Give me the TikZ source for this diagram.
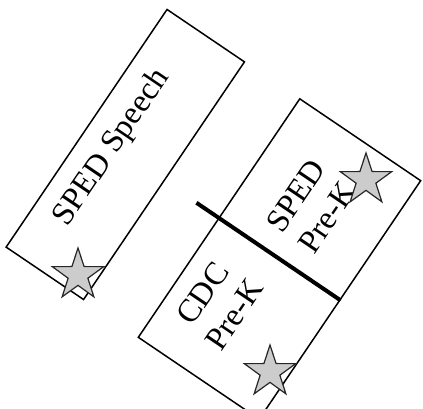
\documentclass[tikz,border=0pt]{standalone}
\usepackage{fontspec}
\setmainfont{Liberation Serif}
\usepackage{tikz}
\usetikzlibrary{shapes.geometric, calc}
\tikzstyle{room} = [rectangle, draw=black, line width=1.5pt, rotate=55.9, inner sep=0pt]
\tikzstyle{roomname} = [rotate=55.9, align=center, font=\fontsize{32.5}{38}\selectfont, inner sep=0pt]
\tikzstyle{spot} = [star, star points=5, star point ratio=2.6, minimum size=54pt, inner sep=0pt, draw=black!85, fill=black!20, line width=1.2pt]
\tikzstyle{divider} = [line width=4pt]

\begin{document}
\begin{tikzpicture}[x=1pt, y=1pt]
	\useasboundingbox (0,0) rectangle (423,409);
	\node (room1) [room, minimum width=287pt, minimum height=93.5pt] at (125.3,254.5) {};
	\node (room2) [room, minimum width=288pt, minimum height=146pt] at (279.5,150) {};
	\node (room1txt) [roomname] at (112,261) {SPED Speech};
	\node (room2atxt) [roomname] at (311.5,202.3) {SPED\\Pre-K};
	\node (room2btxt) [roomname] at (218.5,105) {CDC\\Pre-K};
	\draw [divider] (room2.south) -- ($(room2.south)!1.18!(room2.north)$);
	\node (star1) [spot] at (78,134) {};
	\node (star2) [spot] at (366,229) {};
	\node (star3) [spot] at (270,37) {};
\end{tikzpicture}
\end{document}
